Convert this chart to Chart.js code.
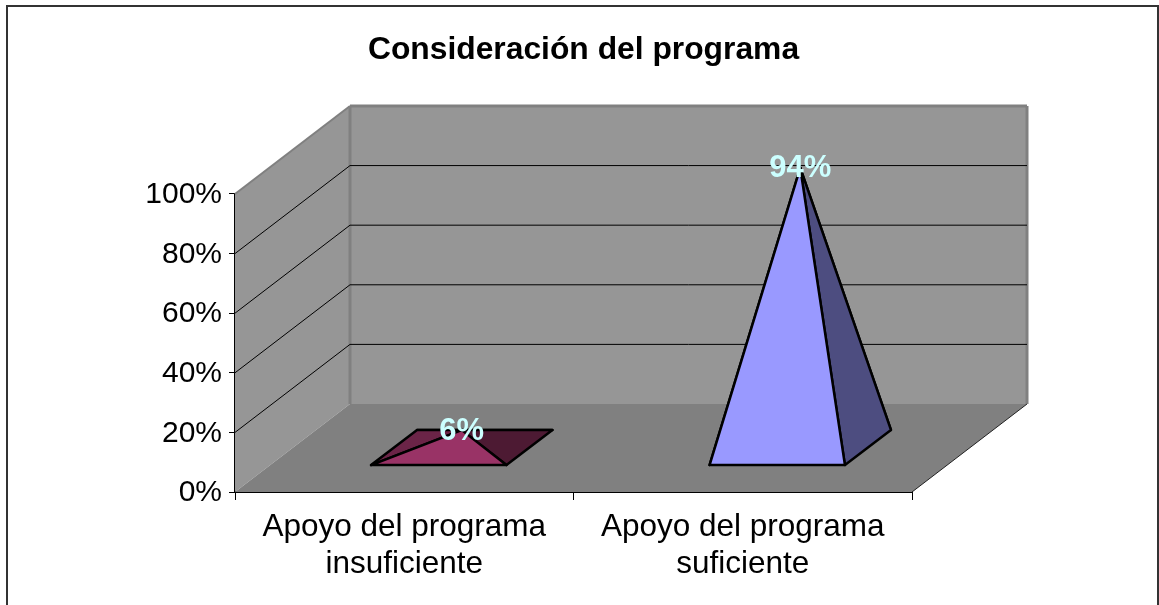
<!DOCTYPE html>
<html>
<head>
<meta charset="utf-8">
<title>Consideración del programa</title>
<script src="https://cdn.jsdelivr.net/npm/chart.js@4"></script>
<style>
  html, body { margin: 0; padding: 0; background: #fff; overflow: hidden; }
  canvas { display: block; }
</style>
</head>
<body>
<canvas id="myChart" width="1159" height="605"></canvas>
<script>
const chartTitle = "Consideración del programa";
const categories = [
  ["Apoyo del programa", "insuficiente"],
  ["Apoyo del programa", "suficiente"],
];
const values = [6, 94];
const valueTicks = [0, 20, 40, 60, 80, 100];

const frontColors = ["#993366", "#9999FF"];
const leftColors = ["#6B2447", "#6B6BB3"];
const rightColors = ["#4D1A33", "#4D4D80"];

// fake 3d box of the plot
const depthX = 115;
const depthY = 88;
const depthStart = 0.3;
const depthEnd = 0.7;

function shape(ctx, pts, fill, stroke, lineWidth) {
  ctx.beginPath();
  pts.forEach((p, i) => (i ? ctx.lineTo(p[0], p[1]) : ctx.moveTo(p[0], p[1])));
  ctx.closePath();
  if (fill) {
    ctx.fillStyle = fill;
    ctx.fill();
  }
  if (stroke) {
    ctx.strokeStyle = stroke;
    ctx.lineWidth = lineWidth;
    ctx.lineJoin = "round";
    ctx.stroke();
  }
}

function line(ctx, x1, y1, x2, y2, color, width) {
  ctx.beginPath();
  ctx.moveTo(x1, y1);
  ctx.lineTo(x2, y2);
  ctx.strokeStyle = color;
  ctx.lineWidth = width;
  ctx.stroke();
}

const box3d = {
  id: "box3d",
  afterLayout(chart) {
    // title sits a little right of the page centre
    chart.titleBlock.left = 8;
    chart.titleBlock.right = 1159;
  },
  beforeDraw(chart) {
    const ctx = chart.ctx;
    ctx.save();
    ctx.fillStyle = "#fff";
    ctx.fillRect(0, 0, chart.width, chart.height);
    ctx.strokeStyle = "#333";
    ctx.lineWidth = 2;
    ctx.strokeRect(7, 6, 1151, 640);
    ctx.restore();
  },
  beforeDatasetsDraw(chart) {
    const ctx = chart.ctx;
    const { left, right, top, bottom } = chart.chartArea;
    const y = chart.scales.y;
    ctx.save();

    // walls and floor
    shape(ctx, [[left, top], [left + depthX, top - depthY], [left + depthX, bottom - depthY], [left, bottom]], "#969696");
    shape(ctx, [[left + depthX, top - depthY], [right + depthX, top - depthY], [right + depthX, bottom - depthY], [left + depthX, bottom - depthY]], "#969696");
    shape(ctx, [[left, bottom], [left + depthX, bottom - depthY], [right + depthX, bottom - depthY], [right, bottom]], "#808080");

    // grey edges
    line(ctx, left, top, left + depthX, top - depthY, "#808080", 2);
    line(ctx, left + depthX, top - depthY, right + depthX, top - depthY, "#808080", 3);
    line(ctx, left + depthX, top - depthY, left + depthX, bottom - depthY, "#808080", 3);
    line(ctx, right + depthX, top - depthY, right + depthX, bottom - depthY, "#808080", 3);

    // gridlines round the walls
    valueTicks.slice(1, -1).forEach((v) => {
      const py = y.getPixelForValue(v);
      line(ctx, left, py, left + depthX, py - depthY, "#000", 1);
      line(ctx, left + depthX, py - depthY, right + depthX, py - depthY, "#000", 1);
    });
    line(ctx, right, bottom, right + depthX, bottom - depthY, "#222", 1);
    ctx.restore();
  },
  afterDatasetsDraw(chart) {
    const ctx = chart.ctx;
    ctx.save();
    const pyramids = chart.getDatasetMeta(0).data;

    pyramids.forEach((bar, i) => {
      const half = bar.width / 2;
      const fx = depthStart * depthX;
      const fy = depthStart * depthY;
      const bx = depthEnd * depthX;
      const by = depthEnd * depthY;
      const FL = [bar.x - half + fx, bar.base - fy];
      const FR = [bar.x + half + fx, bar.base - fy];
      const BL = [bar.x - half + bx, bar.base - by];
      const BR = [bar.x + half + bx, bar.base - by];
      const apex = [
        bar.x + ((depthStart + depthEnd) / 2) * depthX,
        bar.y - ((depthStart + depthEnd) / 2) * depthY,
      ];

      shape(ctx, [BL, BR, apex], rightColors[i], "#000", 2.5);
      shape(ctx, [FL, BL, apex], leftColors[i], "#000", 2.5);
      shape(ctx, [FR, BR, apex], rightColors[i], "#000", 2.5);
      shape(ctx, [FL, FR, apex], frontColors[i], "#000", 2.5);
    });

    // value labels go on top of everything
    ctx.font = "bold 31px 'Liberation Sans'";
    ctx.fillStyle = "#CCFFFF";
    ctx.textAlign = "center";
    ctx.textBaseline = "middle";
    pyramids.forEach((bar, i) => {
      const mid = (depthStart + depthEnd) / 2;
      ctx.fillText(values[i] + "%", bar.x + mid * depthX, bar.y - mid * depthY + 1);
    });
    ctx.restore();
  },
};

new Chart(document.getElementById("myChart"), {
  type: "bar",
  data: {
    labels: categories,
    datasets: [
      {
        data: values,
        backgroundColor: "transparent",
        barPercentage: 0.4,
        categoryPercentage: 1,
      },
    ],
  },
  options: {
    responsive: false,
    animation: false,
    events: [],
    layout: { padding: { left: 0, right: 247, top: 0, bottom: 0 } },
    plugins: {
      legend: { display: false },
      tooltip: { enabled: false },
      title: {
        display: true,
        text: chartTitle,
        color: "#000",
        font: { family: "'Liberation Sans'", size: 31.8, weight: "bold" },
        padding: { top: 31, bottom: 124.8 },
      },
    },
    scales: {
      x: {
        afterFit(scale) {
          scale.height = 113;
        },
        grid: { drawOnChartArea: false, color: "#000", tickLength: 8 },
        border: { color: "#000", width: 2 },
        ticks: {
          color: "#000",
          padding: 8,
          maxRotation: 0,
          autoSkip: false,
          font: { family: "'Liberation Sans'", size: 31.5 },
        },
      },
      y: {
        min: 0,
        max: 100,
        afterFit(scale) {
          scale.width = 235;
        },
        afterBuildTicks(scale) {
          scale.ticks = valueTicks.map((v) => ({ value: v }));
        },
        grid: { drawOnChartArea: false, color: "#000", tickLength: 6 },
        border: { color: "#000", width: 2 },
        ticks: {
          color: "#000",
          padding: 7,
          labelOffset: 1,
          callback: (v) => v + "%",
          font: { family: "'Liberation Sans'", size: 30 },
        },
      },
    },
  },
  plugins: [box3d],
});
</script>
</body>
</html>
